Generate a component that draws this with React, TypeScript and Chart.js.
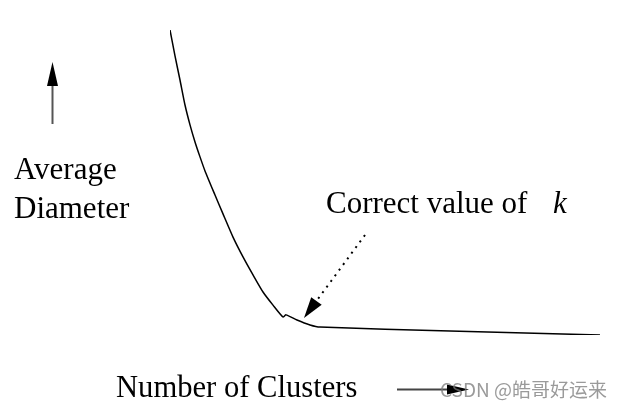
import React, { useEffect, useRef } from "react";
import { Chart, registerables } from "chart.js";

Chart.register(...registerables);

// Number of clusters (k) and average diameter
const clusters = [0, 0.5, 1, 1.5, 2, 2.5, 3, 3.5, 4.5, 5.3, 6.3, 7.3, 8.3, 9.3, 10.3, 11.3, 11.6, 12.7, 14, 15, 28, 43];
const diameter = [100, 91.5, 83.6, 75.4, 68.9, 63.3, 58.4, 53.8, 45.9, 39.7, 32.1, 25.6, 19.7, 14.1, 9.8, 5.9, 6.6, 4.9, 3.3, 2.6, 1.3, 0];

const yLabelLines = ["Average", "Diameter"];
const xLabel = "Number of Clusters";
const noteText = "Correct value of";
const noteVar = "k";
const watermark = "CSDN @皓哥好运来";

// point the dotted arrow at (data units)
const elbowK = 13.4;
const elbowD = 5.6;

const annotations = {
  id: "annotations",
  afterDraw(chart: any) {
    const ctx = chart.ctx as CanvasRenderingContext2D;
    const xs = chart.scales.x;
    const ys = chart.scales.y;
    ctx.save();
    ctx.fillStyle = "#000";
    ctx.textBaseline = "alphabetic";
    ctx.textAlign = "left";

    // y label
    ctx.font = '31px "Liberation Serif"';
    ctx.fillText(yLabelLines[0], 14, 179);
    ctx.fillText(yLabelLines[1], 14, 218);

    // up arrow
    ctx.strokeStyle = "#555";
    ctx.lineWidth = 2;
    ctx.beginPath();
    ctx.moveTo(52.5, 124);
    ctx.lineTo(52.5, 84);
    ctx.stroke();
    ctx.fillStyle = "#000";
    ctx.beginPath();
    ctx.moveTo(52.5, 62);
    ctx.lineTo(58, 86);
    ctx.lineTo(47, 86);
    ctx.closePath();
    ctx.fill();

    // x label
    ctx.font = '30.6px "Liberation Serif"';
    ctx.fillText(xLabel, 116, 397);

    // right arrow
    ctx.strokeStyle = "#444";
    ctx.lineWidth = 2;
    ctx.beginPath();
    ctx.moveTo(397, 389.5);
    ctx.lineTo(450, 389.5);
    ctx.stroke();
    ctx.fillStyle = "#000";
    ctx.beginPath();
    ctx.moveTo(469, 389.5);
    ctx.lineTo(447, 384.5);
    ctx.lineTo(447, 394.5);
    ctx.closePath();
    ctx.fill();

    // note
    ctx.font = '31px "Liberation Serif"';
    ctx.fillText(noteText, 326, 213);
    ctx.font = 'italic 31px "Liberation Serif"';
    ctx.fillText(noteVar, 553, 213);

    // dotted arrow
    const tx = xs.getPixelForValue(elbowK);
    const ty = ys.getPixelForValue(elbowD);
    const sx = 365;
    const sy = 235;
    const dx = tx - sx;
    const dy = ty - sy;
    const len = Math.hypot(dx, dy);
    const ux = dx / len;
    const uy = dy / len;
    const headLen = 21;
    const headW = 6.5;
    const bx = tx - ux * headLen;
    const by = ty - uy * headLen;
    ctx.strokeStyle = "#000";
    ctx.lineWidth = 2;
    ctx.setLineDash([2, 5]);
    ctx.beginPath();
    ctx.moveTo(sx, sy);
    ctx.lineTo(bx, by);
    ctx.stroke();
    ctx.setLineDash([]);
    ctx.beginPath();
    ctx.moveTo(tx, ty);
    ctx.lineTo(bx - uy * headW, by + ux * headW);
    ctx.lineTo(bx + uy * headW, by - ux * headW);
    ctx.closePath();
    ctx.fill();

    // watermark
    ctx.font = '19px "Noto Sans CJK SC", "Noto Sans"';
    ctx.fillStyle = "rgba(120,120,120,0.75)";
    ctx.fillText(watermark, 440, 397);

    ctx.restore();
  },
};

export default function App() {
  const ref = useRef<HTMLCanvasElement | null>(null);
  useEffect(() => {
    if (!ref.current) return;
    const chart = new Chart(ref.current, {
      type: "line",
      data: {
        datasets: [
          {
            data: clusters.map((k, i) => ({ x: k, y: diameter[i] })),
            borderColor: "#000",
            borderWidth: 1.5,
            pointRadius: 0,
            tension: 0.2,
            fill: false,
          },
        ],
      },
      options: {
        animation: false,
        responsive: false,
        maintainAspectRatio: false,
        layout: { padding: { left: 170, right: 31, top: 30, bottom: 75 } },
        plugins: { legend: { display: false }, tooltip: { enabled: false } },
        scales: {
          x: { type: "linear", min: 0, max: 43, display: false },
          y: { type: "linear", min: 0, max: 100, display: false },
        },
      },
      plugins: [annotations],
    });
    return () => chart.destroy();
  }, []);
  return (
    <div style={{ position: "absolute", left: 0, top: 0, width: 631, height: 410, background: "#fff" }}>
      <canvas ref={ref} width={631} height={410} style={{ width: 631, height: 410 }} />
    </div>
  );
}
